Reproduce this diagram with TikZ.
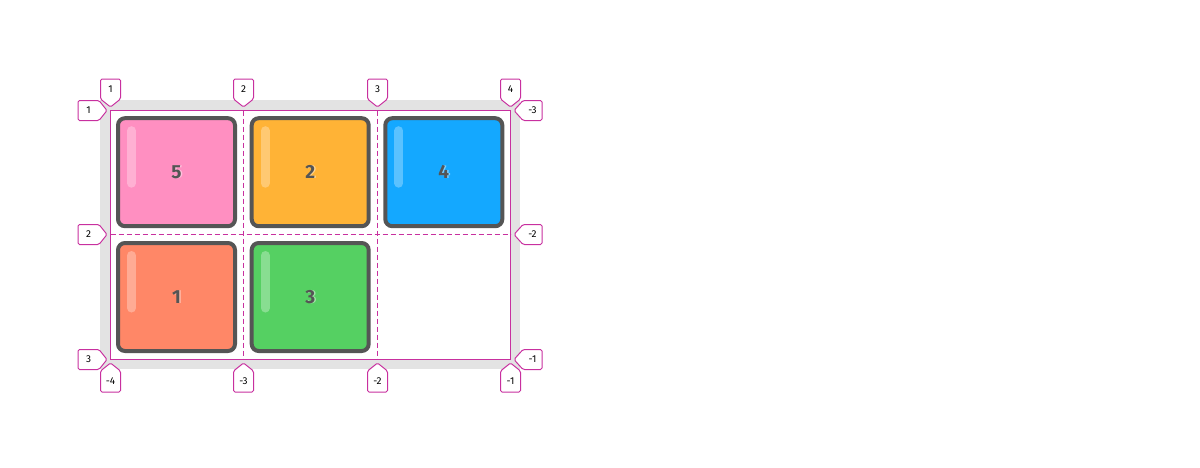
\documentclass[tikz,border=0pt]{standalone}
\usepackage{fontspec}
\setmainfont{Fira Sans}
\usepackage{xcolor}
\usepackage{tikz}
\usetikzlibrary{positioning,calc}
\definecolor{gridpink}{HTML}{C8309F}
\definecolor{containergray}{HTML}{E3E3E3}
\definecolor{itemedge}{HTML}{555555}
\definecolor{itempink}{HTML}{FF8FC1}
\definecolor{itemorange}{HTML}{FFB336}
\definecolor{itemblue}{HTML}{14A8FF}
\definecolor{itemred}{HTML}{FF8767}
\definecolor{itemgreen}{HTML}{55D062}

\begin{document}
\begin{tikzpicture}[x=1pt,y=-1pt,
    itembox/.style={draw=itemedge,line width=4pt,rounded corners=7pt,
      minimum width=117pt,minimum height=108pt,inner sep=0pt},
    numtext/.style={font=\fontsize{19}{19}\selectfont\bfseries,text=itemedge,inner sep=0pt},
    gridline/.style={gridpink,line width=1pt},
    tagbox/.style={draw=gridpink,fill=white,line width=1pt,rounded corners=1.5pt},
    taglabel/.style={font=\fontsize{10}{10}\selectfont,inner sep=0pt}]
    \useasboundingbox (0,0) rectangle (1200,467);
    % container and grid
    \fill[containergray] (100,100) rectangle (520,369);
    \fill[white] (110.5,110.5) rectangle (510.5,359.5);
    \draw[gridline,dash pattern=on 5pt off 3pt] (243.5,110.5) -- (243.5,359.5);
    \draw[gridline,dash pattern=on 5pt off 3pt] (377.5,110.5) -- (377.5,359.5);
    \draw[gridline,dash pattern=on 5pt off 3pt] (110.5,234.5) -- (510.5,234.5);
    % items
    \foreach \name/\cx/\cy/\col in {5/176.5/172.2/itempink,2/310.2/172.2/itemorange,
        4/443.8/172.2/itemblue,1/176.5/297/itemred,3/310.2/297/itemgreen} {
      \node[itembox,fill=\col] (item\name) at (\cx,\cy) {};
      \draw[white,opacity=.3,line width=9pt,line cap=round]
        ($(item\name.center)+(-45,-41.5)$) -- ($(item\name.center)+(-45,11)$);
      \node[numtext,text=white,opacity=.45] at ($(item\name.center)+(1.5,0)$) {\name};
      \node[numtext] (num\name) at (item\name.center) {\name};
    }
    \draw[gridline] (110.5,110.5) rectangle (510.5,359.5);
    % line tags
    \foreach \i/\lbl/\cx in {1/1/110.5,2/2/243.5,3/3/377.5,4/4/510.5} {
      \draw[tagbox] (\cx-10,79) -- (\cx+10,79) -- (\cx+10,99) -- (\cx,107) -- (\cx-10,99) -- cycle;
      \node[taglabel] (top\i) at (\cx,89) {\lbl};
    }
    \foreach \i/\lbl/\cx in {1/-4/110.5,2/-3/243.5,3/-2/377.5,4/-1/510.5} {
      \draw[tagbox] (\cx,363) -- (\cx+10,371) -- (\cx+10,392) -- (\cx-10,392) -- (\cx-10,371) -- cycle;
      \node[taglabel] (bottom\i) at (\cx,381.5) {\lbl};
    }
    \foreach \i/\lbl/\cy in {1/1/110.5,2/2/234.5,3/3/359.5} {
      \draw[tagbox] (78,\cy-10) -- (99,\cy-10) -- (107,\cy) -- (99,\cy+10) -- (78,\cy+10) -- cycle;
      \node[taglabel] (left\i) at (88.5,\cy) {\lbl};
    }
    \foreach \i/\lbl/\cy in {1/-3/110.5,2/-2/234.5,3/-1/359.5} {
      \draw[tagbox] (514,\cy) -- (523,\cy-10) -- (542,\cy-10) -- (542,\cy+10) -- (523,\cy+10) -- cycle;
      \node[taglabel] (right\i) at (532.5,\cy) {\lbl};
    }
\end{tikzpicture}
\end{document}
